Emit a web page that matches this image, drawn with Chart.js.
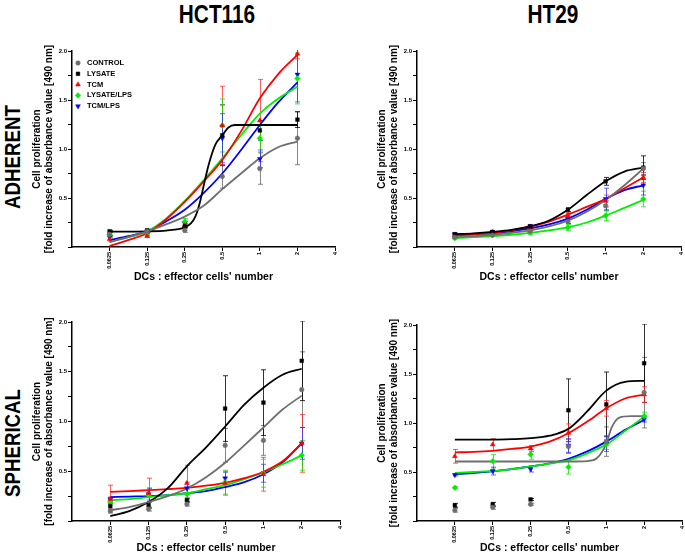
<!DOCTYPE html>
<html>
<head>
<meta charset="utf-8">
<script src="https://cdn.jsdelivr.net/npm/chart.js@4.4.0/dist/chart.umd.min.js"></script>
<style>
body { margin:0; width:685px; height:557px; overflow:hidden; background:#fff; position:relative;
       font-family:"Liberation Sans", Arial, sans-serif; }
.box { position:absolute; }
.lbl { position:absolute; font-weight:bold; white-space:nowrap; line-height:1; color:#000; }
.col { font-size:26px; transform:translate(-50%,-50%) scaleX(0.8); }
.row { font-size:22px; transform:translate(-50%,-50%) rotate(-90deg) scaleX(0.85); }
</style>
</head>
<body>
<div class="lbl col" style="left:217px;top:14px">HCT116</div>
<div class="lbl col" style="left:553px;top:14px">HT29</div>
<div class="lbl row" style="left:13px;top:157px">ADHERENT</div>
<div class="lbl row" style="left:13px;top:443px">SPHERICAL</div>

<div class="box" style="left:20px;top:40px"><canvas id="c1" width="330" height="250"></canvas></div>
<div class="box" style="left:365px;top:40px"><canvas id="c2" width="326" height="250"></canvas></div>
<div class="box" style="left:20px;top:310px"><canvas id="c3" width="330" height="247"></canvas></div>
<div class="box" style="left:365px;top:310px"><canvas id="c4" width="327" height="247"></canvas></div>

<script>
// series and axes
var seriesNames = ['CONTROL', 'LYSATE', 'TCM', 'LYSATE/LPS', 'TCM/LPS'];
var doses = [0.0625, 0.125, 0.25, 0.5, 1, 2];
var xTickValues = [0.0625, 0.125, 0.25, 0.5, 1, 2, 4];
var xTickLabels = ['0.0625', '0.125', '0.25', '0.5', '1', '2', '4'];
var yTickLabels = ['', '', '0.5', '', '1.0', '', '1.5', '', '2.0'];
var xTitle = "DCs : effector cells' number";
var yTitle = ['Cell proliferation', '[fold increase of absorbance value [490 nm]'];
var fitX = [0.0625, 0.088, 0.125, 0.177, 0.25, 0.354, 0.5, 0.707, 1, 1.414, 2];

// HCT116 adherent
var hctAdhMeans = [
    [0.13, 0.16, 0.17, 0.72, 0.80, 1.11],
    [0.16, 0.17, 0.21, 1.14, 1.19, 1.30],
    [0.08, 0.11, 0.22, 1.24, 1.29, 1.97],
    [0.13, 0.12, 0.26, 1.24, 1.11, 1.72],
    [0.10, 0.16, 0.24, 1.11, 0.90, 1.76]
];
var hctAdhErrors = [
    [0.02, 0.02, 0.02, 0.12, 0.16, 0.27],
    [0.01, 0.01, 0.01, 0.31, 0.10, 0.08],
    [0.02, 0.01, 0.02, 0.40, 0.42, 0.05],
    [0.02, 0.02, 0.03, 0.27, 0.14, 0.26],
    [0.02, 0.02, 0.02, 0.25, 0.09, 0.28]
];
var hctAdhLysateX = [0.0625, 0.125, 0.177, 0.25, 0.28, 0.304, 0.33, 0.354, 0.389, 0.44, 0.5, 0.56, 0.63, 1, 2];
var hctAdhFits = [
    [0.05, 0.10, 0.16, 0.23, 0.31, 0.42, 0.59, 0.75, 0.905, 1.02, 1.075],
    [0.157, 0.16, 0.168, 0.2, 0.24, 0.31, 0.45, 0.62, 0.84, 1.045, 1.14, 1.22, 1.245, 1.245, 1.245],
    [0.01, 0.07, 0.14, 0.28, 0.46, 0.667, 0.888, 1.18, 1.517, 1.77, 1.96],
    [0.05, 0.10, 0.16, 0.29, 0.47, 0.68, 0.905, 1.14, 1.36, 1.517, 1.636],
    [0.07, 0.11, 0.16, 0.26, 0.38, 0.55, 0.75, 0.99, 1.245, 1.48, 1.68]
];

// HT29 adherent
var ht29AdhMeans = [
    [0.10, 0.12, 0.16, 0.26, 0.42, 0.80],
    [0.13, 0.155, 0.21, 0.38, 0.67, 0.81],
    [0.12, 0.15, 0.20, 0.32, 0.47, 0.71],
    [0.09, 0.12, 0.145, 0.20, 0.32, 0.49],
    [0.13, 0.15, 0.21, 0.29, 0.49, 0.63]
];
var ht29AdhErrors = [
    [0.01, 0.01, 0.01, 0.02, 0.05, 0.06],
    [0.01, 0.01, 0.01, 0.02, 0.04, 0.12],
    [0.01, 0.01, 0.01, 0.03, 0.06, 0.05],
    [0.01, 0.01, 0.02, 0.03, 0.05, 0.08],
    [0.01, 0.01, 0.02, 0.05, 0.11, 0.10]
];
var ht29AdhFits = [
    [0.10, 0.11, 0.125, 0.145, 0.17, 0.21, 0.27, 0.36, 0.48, 0.63, 0.80],
    [0.13, 0.14, 0.155, 0.175, 0.21, 0.27, 0.38, 0.53, 0.67, 0.77, 0.81],
    [0.12, 0.13, 0.145, 0.17, 0.21, 0.26, 0.33, 0.41, 0.49, 0.60, 0.71],
    [0.09, 0.10, 0.11, 0.125, 0.145, 0.17, 0.20, 0.25, 0.32, 0.40, 0.48],
    [0.12, 0.13, 0.14, 0.16, 0.19, 0.23, 0.29, 0.38, 0.49, 0.58, 0.63]
];

// HCT116 spherical
var hctSphMeans = [
    [0.10, 0.12, 0.17, 0.76, 0.81, 1.32],
    [0.15, 0.16, 0.21, 1.13, 1.19, 1.61],
    [0.22, 0.28, 0.38, 0.38, 0.47, 0.78],
    [0.19, 0.26, 0.27, 0.39, 0.48, 0.66],
    [0.22, 0.27, 0.33, 0.43, 0.48, 0.78]
];
var hctSphErrors = [
    [0.01, 0.02, 0.02, 0.17, 0.15, 0.38],
    [0.03, 0.03, 0.02, 0.33, 0.33, 0.40],
    [0.14, 0.15, 0.18, 0.12, 0.17, 0.29],
    [0.03, 0.07, 0.05, 0.12, 0.14, 0.15],
    [0.02, 0.06, 0.06, 0.06, 0.09, 0.16]
];
var hctSphFits = [
    [0.108, 0.14, 0.19, 0.25, 0.327, 0.44, 0.585, 0.76, 0.94, 1.12, 1.26],
    [0.05, 0.10, 0.19, 0.33, 0.55, 0.74, 0.95, 1.17, 1.34, 1.47, 1.53],
    [0.293, 0.30, 0.31, 0.32, 0.333, 0.355, 0.384, 0.43, 0.495, 0.60, 0.78],
    [0.21, 0.22, 0.24, 0.26, 0.28, 0.32, 0.36, 0.42, 0.49, 0.57, 0.66],
    [0.24, 0.245, 0.25, 0.26, 0.28, 0.30, 0.34, 0.39, 0.47, 0.59, 0.78]
];

// HT29 spherical
var ht29SphMeans = [
    [0.11, 0.14, 0.17, 0.76, 0.81, 1.31],
    [0.16, 0.17, 0.22, 1.13, 1.19, 1.61],
    [0.66, 0.78, 0.74, 0.90, 1.15, 1.29],
    [0.34, 0.61, 0.68, 0.55, 0.78, 1.07],
    [0.47, 0.51, 0.53, 0.77, 0.79, 1.04]
];
var ht29SphErrors = [
    [0.02, 0.02, 0.01, 0.07, 0.15, 0.36],
    [0.02, 0.02, 0.01, 0.32, 0.33, 0.40],
    [0.07, 0.06, 0.03, 0.09, 0.08, 0.08],
    [0.01, 0.07, 0.05, 0.07, 0.05, 0.04],
    [0.01, 0.04, 0.03, 0.07, 0.08, 0.03]
];
var ht29SphControlX = [0.0625, 0.125, 0.25, 0.5, 0.707, 0.84, 1, 1.1, 1.27, 1.57, 2];
var ht29SphFits = [
    [0.607, 0.607, 0.607, 0.607, 0.612, 0.64, 0.79, 0.95, 1.055, 1.07, 1.07],
    [0.83, 0.83, 0.83, 0.835, 0.845, 0.87, 0.94, 1.12, 1.33, 1.42, 1.43],
    [0.70, 0.705, 0.716, 0.735, 0.76, 0.81, 0.896, 1.015, 1.15, 1.25, 1.29],
    [0.49, 0.50, 0.51, 0.53, 0.556, 0.585, 0.62, 0.69, 0.78, 0.92, 1.065],
    [0.478, 0.49, 0.506, 0.53, 0.556, 0.587, 0.635, 0.71, 0.81, 0.93, 1.03]
];

var looks = [
    { color: '#6e6e6e', bar: 'rgba(110,110,110,0.85)', style: 'circle', r: 2.3, rot: 0 },
    { color: '#000000', bar: 'rgba(0,0,0,0.8)', style: 'rect', r: 2.6, rot: 0 },
    { color: '#ff0000', bar: 'rgba(255,40,40,0.75)', style: 'triangle', r: 2.8, rot: 0 },
    { color: '#00ee00', bar: 'rgba(0,230,0,0.75)', style: 'rectRot', r: 2.8, rot: 0 },
    { color: '#0000ff', bar: 'rgba(40,40,255,0.7)', style: 'triangle', r: 2.8, rot: 180 }
];

var errorBars = {
    id: 'errorBars',
    beforeDatasetsDraw: function (chart) {
        var ctx = chart.ctx, xs = chart.scales.x, ys = chart.scales.y, a = chart.chartArea;
        ctx.save();
        ctx.beginPath();
        ctx.rect(a.left, a.top - 1, a.right - a.left, a.bottom - a.top + 1);
        ctx.clip();
        chart.data.datasets.forEach(function (ds) {
            if (!ds.errors) return;
            ctx.strokeStyle = ds.barColor;
            ctx.lineWidth = 1;
            ds.data.forEach(function (p, i) {
                var e = ds.errors[i];
                var x = Math.round(xs.getPixelForValue(p.x)) + 0.5;
                var y1 = ys.getPixelForValue(p.y + e), y2 = ys.getPixelForValue(Math.max(0, p.y - e));
                ctx.beginPath();
                ctx.moveTo(x, y1); ctx.lineTo(x, y2);
                ctx.moveTo(x - 2.5, y1); ctx.lineTo(x + 2.5, y1);
                ctx.moveTo(x - 2.5, y2); ctx.lineTo(x + 2.5, y2);
                ctx.stroke();
            });
        });
        ctx.restore();
    }
};

var insideLegend = {
    id: 'insideLegend',
    afterDraw: function (chart, args, opts) {
        if (!opts || !opts.show) return;
        var ctx = chart.ctx, a = chart.chartArea;
        ctx.save();
        ctx.font = 'bold 7.5px "Liberation Sans", Arial, sans-serif';
        ctx.textBaseline = 'middle';
        ctx.textAlign = 'left';
        for (var i = 0; i < seriesNames.length; i++) {
            var lk = looks[i];
            var y = a.top + 12 + i * 10.8;
            ctx.fillStyle = lk.color;
            ctx.strokeStyle = lk.color;
            ctx.lineWidth = 0.5;
            Chart.helpers.drawPoint(ctx, { pointStyle: lk.style, radius: lk.r, rotation: lk.rot, borderWidth: 0.5 }, a.left + 6, y);
            ctx.fillStyle = '#000';
            ctx.fillText(seriesNames[i], a.left + 15, y);
        }
        ctx.restore();
    }
};

function buildDatasets(means, errors, fits, fitXs) {
    var sets = [];
    for (var i = 0; i < seriesNames.length; i++) {
        var lk = looks[i];
        var pts = [];
        for (var j = 0; j < doses.length; j++) pts.push({ x: doses[j], y: means[i][j] });
        sets.push({
            label: seriesNames[i],
            data: pts,
            errors: errors[i],
            barColor: lk.bar,
            showLine: false,
            pointStyle: lk.style,
            pointRotation: lk.rot,
            pointRadius: lk.r,
            backgroundColor: lk.color,
            borderColor: lk.color,
            borderWidth: 0.5
        });
    }
    for (var i = 0; i < seriesNames.length; i++) {
        var lk = looks[i];
        var xs = fitXs[i];
        var line = [];
        for (var j = 0; j < xs.length; j++) line.push({ x: xs[j], y: fits[i][j] });
        sets.push({
            label: seriesNames[i] + ' fit',
            data: line,
            showLine: true,
            pointRadius: 0,
            borderColor: lk.color,
            backgroundColor: lk.color,
            borderWidth: 1.8,
            cubicInterpolationMode: 'monotone'
        });
    }
    return sets;
}

function makePanel(id, datasets, p) {
    var ctx = document.getElementById(id).getContext('2d');
    return new Chart(ctx, {
        type: 'scatter',
        data: { datasets: datasets },
        options: {
            responsive: false,
            animation: false,
            layout: { padding: { left: 0, right: p.pr, top: p.pt, bottom: 0 } },
            plugins: {
                legend: { display: false },
                tooltip: { enabled: false },
                insideLegend: { show: p.legend }
            },
            scales: {
                x: {
                    type: 'logarithmic',
                    min: 0.03125,
                    max: 4,
                    afterBuildTicks: function (s) {
                        s.ticks = xTickValues.map(function (v) { return { value: v }; });
                    },
                    afterFit: function (s) { s.height = p.xh; },
                    ticks: {
                        autoSkip: false, minRotation: 90, maxRotation: 90, padding: 1, color: '#000',
                        font: { size: 5.5, weight: 'bold' },
                        callback: function (v, i) { return xTickLabels[i]; }
                    },
                    grid: { drawOnChartArea: false, drawTicks: true, tickLength: 4, color: '#000' },
                    border: { display: true, color: '#000', width: 1.5 },
                    title: {
                        display: true, text: xTitle, color: '#000',
                        font: { size: 10.5, weight: 'bold' },
                        padding: { top: 0, bottom: p.xpb }
                    }
                },
                y: {
                    min: 0,
                    max: 2,
                    afterFit: function (s) { s.width = 52; },
                    ticks: {
                        stepSize: 0.25, autoSkip: false, padding: 1, color: '#000',
                        font: { size: 6, weight: 'bold' },
                        callback: function (v, i) { return yTickLabels[i]; }
                    },
                    grid: { drawOnChartArea: false, drawTicks: true, tickLength: 4, color: '#000' },
                    border: { display: true, color: '#000', width: 1.5 },
                    title: {
                        display: true, text: yTitle, color: '#000',
                        font: { size: 10, weight: 'bold' },
                        padding: { top: 11, bottom: 0 }
                    }
                }
            }
        },
        plugins: [errorBars, insideLegend]
    });
}

Chart.defaults.font.family = '"Liberation Sans", Arial, sans-serif';

makePanel('c1', buildDatasets(hctAdhMeans, hctAdhErrors, hctAdhFits, [fitX, hctAdhLysateX, fitX, fitX, fitX]),
    { pr: 15, pt: 11, xh: 43, xpb: 6.7, legend: true });
makePanel('c2', buildDatasets(ht29AdhMeans, ht29AdhErrors, ht29AdhFits, [fitX, fitX, fitX, fitX, fitX]),
    { pr: 10, pt: 11, xh: 43, xpb: 6.7, legend: false });
makePanel('c3', buildDatasets(hctSphMeans, hctSphErrors, hctSphFits, [fitX, fitX, fitX, fitX, fitX]),
    { pr: 10, pt: 12, xh: 36, xpb: 2.7, legend: false });
makePanel('c4', buildDatasets(ht29SphMeans, ht29SphErrors, ht29SphFits, [ht29SphControlX, fitX, fitX, fitX, fitX]),
    { pr: 10, pt: 15, xh: 36, xpb: 2.7, legend: false });
</script>
</body>
</html>
